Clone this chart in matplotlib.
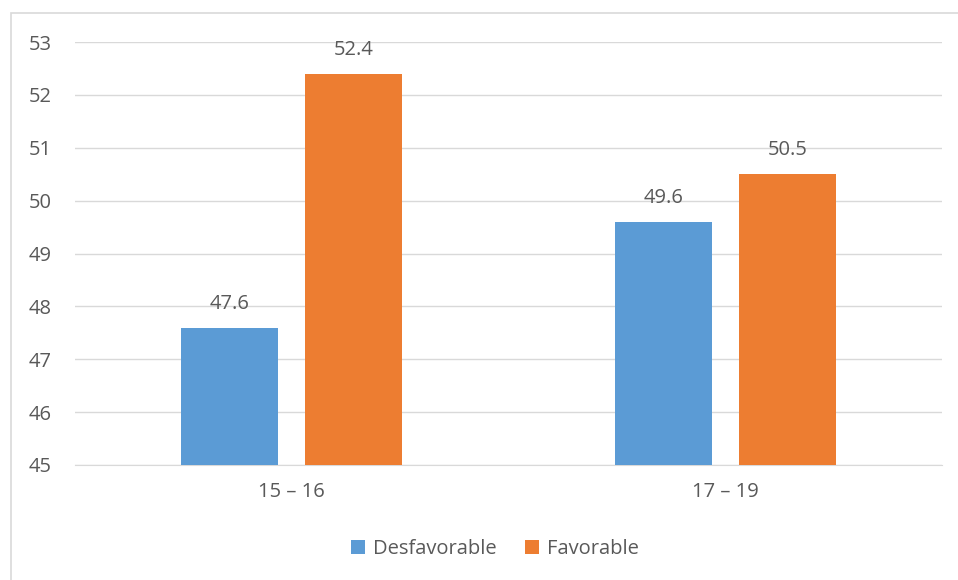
import matplotlib
matplotlib.use("Agg")
import matplotlib.pyplot as plt
import numpy as np
from matplotlib.patches import Rectangle

categories = ["15 \u2013 16", "17 \u2013 19"]
desfavorable = [47.6, 49.6]
favorable = [52.4, 50.5]
series_names = ["Desfavorable", "Favorable"]

BLUE = "#5B9BD5"
ORANGE = "#ED7D31"
TEXT = "#595959"
GRID = "#D9D9D9"

plt.rcParams.update({"font.family": ["Open Sans", "DejaVu Sans"], "font.size": 14.5})

fig = plt.figure(figsize=(9.58, 5.8), dpi=100)
ax = fig.add_axes([75 / 958, 1 - 465 / 580, 867 / 958, 423 / 580])

x = np.arange(len(categories))
w = 0.224
off = 0.143
b1 = ax.bar(x - off, desfavorable, w, color=BLUE, label=series_names[0], zorder=3)
b2 = ax.bar(x + off, favorable, w, color=ORANGE, label=series_names[1], zorder=3)

for bars, vals in ((b1, desfavorable), (b2, favorable)):
    for r, v in zip(bars, vals):
        ax.annotate(f"{v:.1f}", (r.get_x() + r.get_width() / 2, v),
                    textcoords="offset points", xytext=(0, 10),
                    ha="center", va="bottom", color=TEXT)

ax.set_xlim(-0.5, 1.5)
ax.set_ylim(45, 53)
ax.set_yticks(range(45, 54))
ax.set_xticks(x)
ax.set_xticklabels(categories)
ax.yaxis.grid(True, color=GRID, lw=1)
ax.set_axisbelow(True)
for s in ("left", "right", "top"):
    ax.spines[s].set_visible(False)
ax.spines["bottom"].set_color(GRID)
ax.tick_params(axis="both", length=0, colors=TEXT, labelsize=14.5)
ax.tick_params(axis="y", pad=17)
ax.tick_params(axis="x", pad=12)

leg = fig.legend(loc="center", bbox_to_anchor=(495 / 958, 1 - 549 / 580), ncol=2,
                 frameon=False, handlelength=0.7, handleheight=0.7, handletextpad=0.4,
                 columnspacing=1.4)
for t in leg.get_texts():
    t.set_color(TEXT)

fig.patches.append(Rectangle((10.5 / 958, -0.01), 1.0, 1 - 12.5 / 580 + 0.01,
                             transform=fig.transFigure, fill=False, ec=GRID, lw=1.2))

fig.savefig("out.png", dpi=100)
